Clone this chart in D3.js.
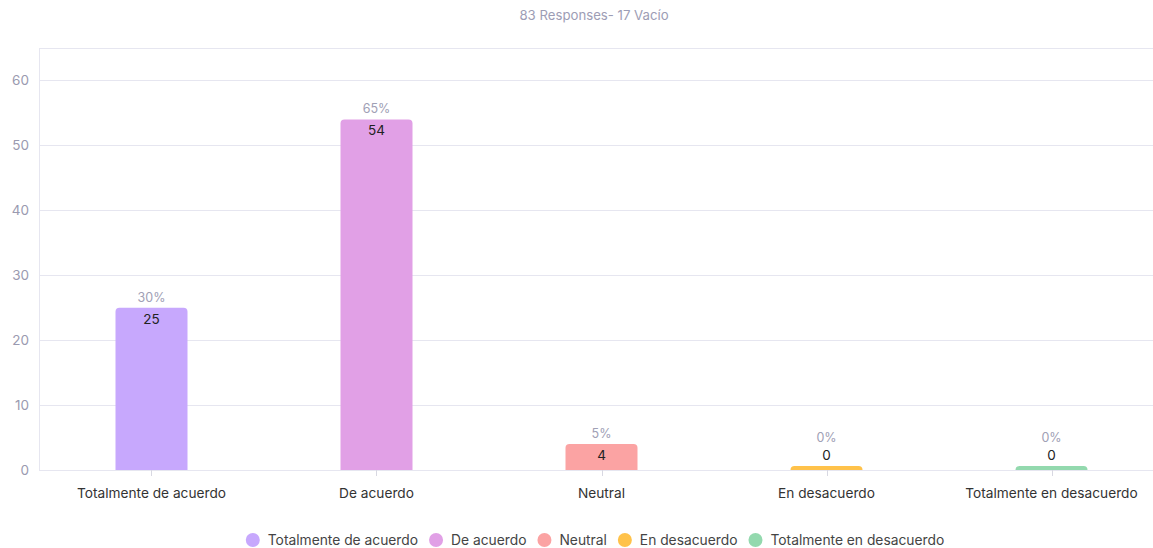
<!DOCTYPE html>
<html>
<head>
<meta charset="utf-8">
<script src="https://cdn.jsdelivr.net/npm/d3@7"></script>
<style>
  body { margin: 0; background: #fff; }
  svg { font-family: Inter, "Noto Sans", sans-serif; }
</style>
</head>
<body>
<svg id="chart" width="1153" height="548"></svg>
<script>
// data
var categories = ['Totalmente de acuerdo', 'De acuerdo', 'Neutral', 'En desacuerdo', 'Totalmente en desacuerdo'];
var counts = [25, 54, 4, 0, 0];
var percents = ['30%', '65%', '5%', '0%', '0%'];
var colors = ['#c7a8fd', '#e1a0e6', '#fba3a3', '#ffc24a', '#93d9ae'];
var yTicks = [0, 10, 20, 30, 40, 50, 60];
var title = '83 Responses- 17 Vacío';

var svg = d3.select('#chart');
var plotLeft = 39, plotRight = 1164, plotTop = 48, plotBottom = 470;

var x = d3.scaleBand().domain(categories).range([plotLeft, plotRight]).paddingInner(0.68).paddingOuter(0.34);
var y = d3.scaleLinear().domain([0, 65]).range([plotBottom, plotTop]);

// title
svg.append('text')
    .attr('x', 594).attr('y', 20)
    .attr('text-anchor', 'middle')
    .attr('font-size', 13.2)
    .attr('fill', '#9d9db5')
    .text(title);

// grid
svg.append('g').selectAll('line').data(yTicks).enter().append('line')
    .attr('x1', plotLeft).attr('x2', 1153)
    .attr('y1', function(d) { return Math.round(y(d)) + 0.5; })
    .attr('y2', function(d) { return Math.round(y(d)) + 0.5; })
    .attr('stroke', '#e6e6f0');
svg.append('line').attr('x1', plotLeft).attr('x2', 1153).attr('y1', plotTop + 0.5).attr('y2', plotTop + 0.5).attr('stroke', '#e6e6f0');
svg.append('line').attr('x1', plotLeft + 0.5).attr('x2', plotLeft + 0.5).attr('y1', plotTop).attr('y2', plotBottom).attr('stroke', '#e6e6f0');

// y labels
svg.append('g').selectAll('text').data(yTicks).enter().append('text')
    .attr('x', 29).attr('y', function(d) { return y(d) + 5; })
    .attr('text-anchor', 'end')
    .attr('font-size', 13.5)
    .attr('fill', '#9a9ab0')
    .text(function(d) { return d; });

// x ticks + labels
var xg = svg.append('g');
xg.selectAll('line').data(categories).enter().append('line')
    .attr('x1', function(d) { return Math.round(x(d) + x.bandwidth() / 2) + 0.5; })
    .attr('x2', function(d) { return Math.round(x(d) + x.bandwidth() / 2) + 0.5; })
    .attr('y1', plotBottom).attr('y2', plotBottom + 6)
    .attr('stroke', '#d8d8e2');
xg.selectAll('text').data(categories).enter().append('text')
    .attr('x', function(d) { return x(d) + x.bandwidth() / 2; })
    .attr('y', 498)
    .attr('text-anchor', 'middle')
    .attr('font-size', 13.7)
    .attr('fill', '#333')
    .text(function(d) { return d; });

// bars, rounded top corners, small stub for zeros
function barPath(x0, w, h) {
    var r = Math.min(4, h);
    var yt = plotBottom - h;
    return 'M' + x0 + ',' + plotBottom +
        'V' + (yt + r) +
        'Q' + x0 + ',' + yt + ' ' + (x0 + r) + ',' + yt +
        'H' + (x0 + w - r) +
        'Q' + (x0 + w) + ',' + yt + ' ' + (x0 + w) + ',' + (yt + r) +
        'V' + plotBottom + 'Z';
}
var bars = svg.append('g').selectAll('g').data(categories).enter().append('g');
bars.append('path')
    .attr('d', function(d, i) {
        var h = Math.max(plotBottom - y(counts[i]), 4);
        return barPath(x(d), x.bandwidth(), h);
    })
    .attr('fill', function(d, i) { return colors[i]; });
// value labels: inside the bar top, or just above the stub when the bar is empty
bars.append('text')
    .attr('x', function(d) { return x(d) + x.bandwidth() / 2; })
    .attr('y', function(d, i) { return counts[i] > 0 ? y(counts[i]) + 16 : plotBottom - 10; })
    .attr('text-anchor', 'middle')
    .attr('font-size', 13.5)
    .attr('fill', '#222')
    .text(function(d, i) { return counts[i]; });
bars.append('text')
    .attr('x', function(d) { return x(d) + x.bandwidth() / 2; })
    .attr('y', function(d, i) { return counts[i] > 0 ? y(counts[i]) - 6 : plotBottom - 28; })
    .attr('text-anchor', 'middle')
    .attr('font-size', 12.5)
    .attr('fill', '#a0a0b5')
    .text(function(d, i) { return percents[i]; });

// legend
var legend = svg.append('g');
var items = legend.selectAll('g').data(categories).enter().append('g');
items.append('circle').attr('r', 7).attr('cy', 0).attr('fill', function(d, i) { return colors[i]; });
items.append('text').attr('x', 15).attr('y', 5).attr('font-size', 13.8).attr('fill', '#444').text(function(d) { return d; });
var gap = 11, xpos = 0, offs = [];
items.each(function() {
    offs.push(xpos);
    xpos += this.getBBox().width + gap;
});
var start = 595 - (xpos - gap) / 2 + 7;
items.attr('transform', function(d, i) { return 'translate(' + (start + offs[i]) + ',540)'; });
</script>
</body>
</html>
